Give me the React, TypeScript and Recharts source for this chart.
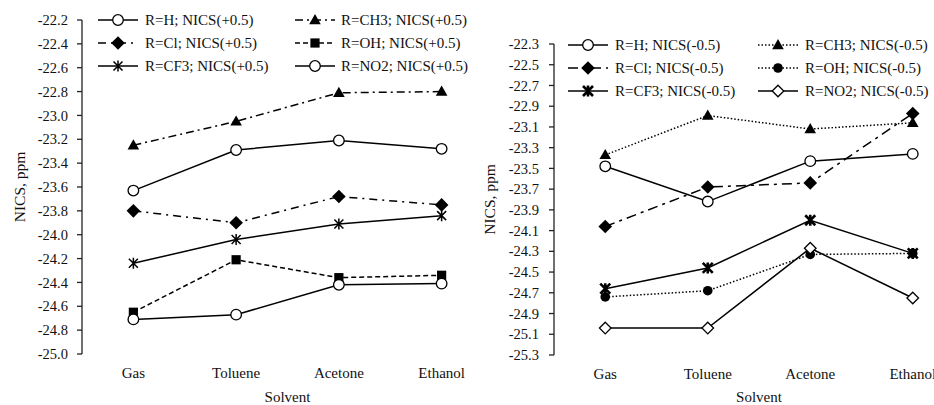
import React from 'react';
import { LineChart, Line, XAxis, YAxis, Legend } from 'recharts';

const categories = ['Gas', 'Toluene', 'Acetone', 'Ethanol'];

// NICS(+0.5) values (left panel)
const plusH = [-23.63, -23.29, -23.21, -23.28];
const plusCH3 = [-23.25, -23.05, -22.81, -22.8];
const plusCl = [-23.8, -23.9, -23.68, -23.75];
const plusOH = [-24.65, -24.21, -24.36, -24.34];
const plusCF3 = [-24.24, -24.04, -23.91, -23.84];
const plusNO2 = [-24.71, -24.67, -24.42, -24.41];

// NICS(-0.5) values (right panel)
const minusH = [-23.48, -23.82, -23.43, -23.36];
const minusCH3 = [-23.37, -22.99, -23.12, -23.06];
const minusCl = [-24.06, -23.68, -23.64, -22.97];
const minusOH = [-24.74, -24.68, -24.33, -24.32];
const minusCF3 = [-24.66, -24.46, -24.0, -24.32];
const minusNO2 = [-25.04, -25.04, -24.27, -24.75];

const leftTicks = [-25.0, -24.8, -24.6, -24.4, -24.2, -24.0, -23.8, -23.6, -23.4, -23.2, -23.0, -22.8, -22.6, -22.4, -22.2];
const rightTicks = [-25.3, -25.1, -24.9, -24.7, -24.5, -24.3, -24.1, -23.9, -23.7, -23.5, -23.3, -23.1, -22.9, -22.7, -22.5, -22.3];

const boundaryTicks = [0, 1, 2, 3, 4];
const centerTicks = [0.5, 1.5, 2.5, 3.5];

const FONT = "'Liberation Serif', 'DejaVu Serif', serif";
const INK = '#111';

type Shape = 'circleOpen' | 'circleFilled' | 'triangle' | 'diamond' | 'diamondOpen' | 'square' | 'star' | 'starBold';

function Marker({ shape, cx, cy }: { shape: Shape; cx: number; cy: number }) {
  if (cx == null || cy == null || isNaN(cx) || isNaN(cy)) return null;
  switch (shape) {
    case 'circleOpen':
      return <circle cx={cx} cy={cy} r={5.3} fill="#fff" stroke="#000" strokeWidth={1.3} />;
    case 'circleFilled':
      return <circle cx={cx} cy={cy} r={4.8} fill="#000" />;
    case 'triangle':
      return <path d={`M${cx},${cy - 6} L${cx + 5.8},${cy + 4.2} L${cx - 5.8},${cy + 4.2} Z`} fill="#000" />;
    case 'diamond':
      return <path d={`M${cx},${cy - 6.8} L${cx + 6.8},${cy} L${cx},${cy + 6.8} L${cx - 6.8},${cy} Z`} fill="#000" />;
    case 'diamondOpen':
      return (
        <path d={`M${cx},${cy - 5.8} L${cx + 5.8},${cy} L${cx},${cy + 5.8} L${cx - 5.8},${cy} Z`} fill="#fff" stroke="#000" strokeWidth={1.3} />
      );
    case 'square':
      return <rect x={cx - 4.6} y={cy - 4.6} width={9.2} height={9.2} fill="#000" />;
    case 'star':
      return (
        <path
          d={`M${cx - 4.5},${cy - 4.5} L${cx + 4.5},${cy + 4.5} M${cx - 4.5},${cy + 4.5} L${cx + 4.5},${cy - 4.5} M${cx},${cy - 5.5} L${cx},${cy + 5.5}`}
          stroke="#000"
          strokeWidth={1.5}
          fill="none"
        />
      );
    case 'starBold':
      return (
        <path
          d={`M${cx - 5},${cy - 5} L${cx + 5},${cy + 5} M${cx - 5},${cy + 5} L${cx + 5},${cy - 5} M${cx},${cy - 5.5} L${cx},${cy + 5.5}`}
          stroke="#000"
          strokeWidth={2.6}
          fill="none"
        />
      );
    default:
      return null;
  }
}

type Series = { key: string; name: string; values: number[]; dash?: string; shape: Shape };

const leftSeries: Series[] = [
  { key: 'H', name: 'R=H; NICS(+0.5)', values: plusH, shape: 'circleOpen' },
  { key: 'CH3', name: 'R=CH3; NICS(+0.5)', values: plusCH3, dash: '8 4 2 4', shape: 'triangle' },
  { key: 'Cl', name: 'R=Cl; NICS(+0.5)', values: plusCl, dash: '8 5 2 5', shape: 'diamond' },
  { key: 'OH', name: 'R=OH; NICS(+0.5)', values: plusOH, dash: '5 3', shape: 'square' },
  { key: 'CF3', name: 'R=CF3; NICS(+0.5)', values: plusCF3, shape: 'star' },
  { key: 'NO2', name: 'R=NO2; NICS(+0.5)', values: plusNO2, shape: 'circleOpen' },
];

const rightSeries: Series[] = [
  { key: 'H', name: 'R=H; NICS(-0.5)', values: minusH, shape: 'circleOpen' },
  { key: 'CH3', name: 'R=CH3; NICS(-0.5)', values: minusCH3, dash: '1.5 2', shape: 'triangle' },
  { key: 'Cl', name: 'R=Cl; NICS(-0.5)', values: minusCl, dash: '10 5 3 5', shape: 'diamond' },
  { key: 'OH', name: 'R=OH; NICS(-0.5)', values: minusOH, dash: '1.5 2', shape: 'circleFilled' },
  { key: 'CF3', name: 'R=CF3; NICS(-0.5)', values: minusCF3, shape: 'starBold' },
  { key: 'NO2', name: 'R=NO2; NICS(-0.5)', values: minusNO2, shape: 'diamondOpen' },
];

function buildRows(series: Series[]) {
  return categories.map((c, i) => {
    const row: any = { x: i + 0.5, name: c };
    series.forEach((s) => {
      row[s.key] = s.values[i];
    });
    return row;
  });
}

function LegendBlock({ series, rowYs, iconXs, textXs }: { series: Series[]; rowYs: number[]; iconXs: number[]; textXs: number[] }) {
  return (
    <svg width={500} height={110} style={{ display: 'block', overflow: 'visible' }}>
      {series.map((s, i) => {
        const row = Math.floor(i / 2);
        const col = i % 2;
        const y = rowYs[row];
        const x0 = iconXs[col];
        return (
          <g key={s.key}>
            <line x1={x0} y1={y} x2={x0 + 40} y2={y} stroke="#000" strokeWidth={1.5} strokeDasharray={s.dash} />
            <Marker shape={s.shape} cx={x0 + 20} cy={y} />
            <text x={textXs[col]} y={y + 5} style={{ fontFamily: FONT }} fontSize={15} fill={INK}>
              {s.name}
            </text>
          </g>
        );
      })}
    </svg>
  );
}

function Panel({
  series,
  ticks,
  domain,
  marginTop,
  yAxisWidth,
  marginRight,
  xAxisHeight,
  tickMargin,
  legend,
}: {
  series: Series[];
  ticks: number[];
  domain: [number, number];
  marginTop: number;
  yAxisWidth: number;
  marginRight: number;
  xAxisHeight: number;
  tickMargin: number;
  legend: { rowYs: number[]; iconXs: number[]; textXs: number[] };
}) {
  const rows = buildRows(series);
  return (
    <LineChart
      width={500}
      height={405}
      data={rows}
      margin={{ top: marginTop, right: marginRight, bottom: 0, left: 0 }}
      style={{ fontFamily: FONT }}
    >
      <XAxis
        xAxisId="ticks"
        type="number"
        domain={[0, 4]}
        ticks={boundaryTicks}
        interval={0}
        height={0}
        tickSize={5}
        tickFormatter={() => ''}
        axisLine={{ stroke: '#222', strokeWidth: 1.3 }}
        tickLine={{ stroke: '#222', strokeWidth: 1.3 }}
      />
      <XAxis
        xAxisId="main"
        type="number"
        dataKey="x"
        domain={[0, 4]}
        ticks={centerTicks}
        interval={0}
        height={xAxisHeight}
        tickSize={0}
        tickMargin={13}
        axisLine={false}
        tickLine={false}
        tickFormatter={(v: number) => categories[Math.floor(v)]}
        tick={{ fontSize: 15, fill: INK, style: { fontFamily: FONT } }}
        label={{ value: 'Solvent', position: 'insideBottom', offset: 3, fontSize: 15, fill: INK, style: { fontFamily: FONT } }}
      />
      <YAxis
        type="number"
        domain={domain}
        ticks={ticks}
        interval={0}
        width={yAxisWidth}
        tickSize={5}
        tickMargin={tickMargin}
        tickFormatter={(v: number) => v.toFixed(1)}
        tick={{ fontSize: 14.5, fill: INK, style: { fontFamily: FONT } }}
        axisLine={{ stroke: '#222', strokeWidth: 1.3 }}
        tickLine={{ stroke: '#222', strokeWidth: 1.3 }}
        label={{
          content: (p: any) => {
            const vb = p.viewBox || { x: 0, y: marginTop, width: yAxisWidth, height: 405 - marginTop - xAxisHeight };
            const cx = vb.x + 19;
            const cy = vb.y + vb.height / 2;
            return (
              <text
                x={cx}
                y={cy}
                transform={`rotate(-90, ${cx}, ${cy})`}
                textAnchor="middle"
                dominantBaseline="central"
                style={{ fontFamily: FONT }}
                fontSize={15.5}
                fill={INK}
              >
                NICS, ppm
              </text>
            );
          },
        }}
      />
      <Legend
        layout="horizontal"
        verticalAlign="middle"
        align="center"
        wrapperStyle={{ left: 0, top: 0, width: 500, height: 110 }}
        content={() => <LegendBlock series={series} {...legend} />}
      />
      {series.map((s) => (
        <Line
          key={s.key}
          xAxisId="main"
          dataKey={s.key}
          name={s.name}
          stroke="#000"
          strokeWidth={1.5}
          strokeDasharray={s.dash}
          isAnimationActive={false}
          activeDot={false}
          dot={(p: any) => <Marker key={`${s.key}-${p.index}`} shape={s.shape} cx={p.cx} cy={p.cy} />}
        />
      ))}
    </LineChart>
  );
}

export default function App() {
  return (
    <div style={{ position: 'absolute', left: 0, top: 0, width: 934, height: 405, background: '#fff', overflow: 'hidden', fontFamily: FONT }}>
      <div style={{ position: 'absolute', left: 0, top: 0, width: 470, height: 405, overflow: 'hidden' }}>
        <Panel
          series={leftSeries}
          ticks={leftTicks}
          domain={[-25.0, -22.2]}
          marginTop={20}
          yAxisWidth={82}
          marginRight={7}
          xAxisHeight={51}
          tickMargin={9}
          legend={{ rowYs: [20, 43, 66], iconXs: [98, 295], textXs: [145, 341] }}
        />
      </div>
      <div style={{ position: 'absolute', left: 470, top: 0, width: 464, height: 405, overflow: 'hidden' }}>
        <Panel
          series={rightSeries}
          ticks={rightTicks}
          domain={[-25.3, -22.3]}
          marginTop={44}
          yAxisWidth={84}
          marginRight={6}
          xAxisHeight={50}
          tickMargin={10}
          legend={{ rowYs: [45, 68, 91], iconXs: [98, 288], textXs: [145, 335] }}
        />
      </div>
    </div>
  );
}
